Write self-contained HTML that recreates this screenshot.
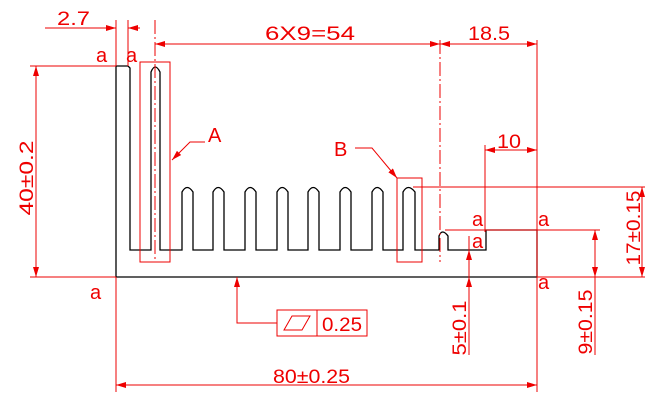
<!DOCTYPE html>
<html><head><style>body{margin:0;background:#fff}svg{display:block}text{font-family:"Liberation Sans",sans-serif;fill:#e00}</style></head><body>
<svg width="655" height="402" viewBox="0 0 655 402" xmlns="http://www.w3.org/2000/svg">
<defs><marker id="ar" viewBox="0 0 10 6" refX="10" refY="3" markerWidth="10" markerHeight="6" orient="auto-start-reverse" markerUnits="userSpaceOnUse"><path d="M0,0L10,3L0,6z" fill="#e00"/></marker></defs>
<g fill="none" stroke="#000" stroke-width="1.3">
<path d="M116,66V277H537V230H486V250H448V236Q442,228 439,236V250H415V192Q408,183 403,192V250H383V192Q377,183 372,192V250H351V192Q345,183 340,192V250H319V192Q313,183 308,192V250H288V192Q282,183 277,192V250H256V192Q250,183 245,192V250H224V192Q218,183 213,192V250H193V192Q187,183 182,192V250H160V72Q155,62 151,72V250H130V68L128,66Z"/>
</g>
<g fill="none" stroke="#e00" stroke-width="1">
<rect x="140" y="62" width="30" height="200"/>
<rect x="397" y="178" width="25" height="84"/>
<path d="M155,20V262M440,40V262" stroke-dasharray="14,3,2,3"/>
<path d="M413,187H645M445,230H600M537,277H645M30,66H116M30,277H116M116,20V66M128,20V66M116,277V392M537,40V392M485,145V232M469,236V355M595,230V355M237,277V323H277"/>
<path d="M36,66V277" marker-start="url(#ar)" marker-end="url(#ar)"/>
<path d="M642,187V277" marker-start="url(#ar)" marker-end="url(#ar)"/>
<path d="M116,385H537" marker-start="url(#ar)" marker-end="url(#ar)"/>
<path d="M155,44H440" marker-start="url(#ar)" marker-end="url(#ar)"/>
<path d="M440,44H537" marker-start="url(#ar)" marker-end="url(#ar)"/>
<path d="M485,150H537" marker-start="url(#ar)" marker-end="url(#ar)"/>
<path d="M45,28H116" marker-end="url(#ar)"/><path d="M140,28H128" marker-end="url(#ar)"/>
<path d="M595,300V230" marker-end="url(#ar)"/><path d="M595,250V277" marker-end="url(#ar)"/>
<path d="M469,270V250" marker-end="url(#ar)"/><path d="M469,300V277" marker-end="url(#ar)"/>
<path d="M237,300V277" marker-end="url(#ar)"/>
<path d="M205,142H190L172,160" marker-end="url(#ar)"/>
<path d="M355,148H372L397,178" marker-end="url(#ar)"/>
<rect x="277" y="310" width="90" height="26"/><path d="M317,310V336M284,330L292,316H310L302,330Z"/>
</g>
<g font-size="19" lengthAdjust="spacingAndGlyphs">
<text x="57" y="25" textLength="33" lengthAdjust="spacingAndGlyphs">2.7</text>
<text x="265" y="40" textLength="90" lengthAdjust="spacingAndGlyphs">6X9=54</text>
<text x="468" y="40" textLength="42" lengthAdjust="spacingAndGlyphs">18.5</text>
<text x="497" y="148" textLength="24" lengthAdjust="spacingAndGlyphs">10</text>
<text x="273" y="383" textLength="77" lengthAdjust="spacingAndGlyphs">80±0.25</text>
<text x="322" y="331" textLength="40" lengthAdjust="spacingAndGlyphs">0.25</text>
<text x="208" y="142" font-size="20">A</text>
<text x="334" y="156" font-size="20">B</text>
<text transform="translate(33,178) rotate(-90)" text-anchor="middle" textLength="75" lengthAdjust="spacingAndGlyphs">40±0.2</text>
<text transform="translate(640,228) rotate(-90)" text-anchor="middle" textLength="75" lengthAdjust="spacingAndGlyphs">17±0.15</text>
<text transform="translate(466,328) rotate(-90)" text-anchor="middle" textLength="55" lengthAdjust="spacingAndGlyphs">5±0.1</text>
<text transform="translate(592,322) rotate(-90)" text-anchor="middle" textLength="65" lengthAdjust="spacingAndGlyphs">9±0.15</text>
<g font-size="20">
<text x="96" y="62">a</text><text x="126" y="62">a</text><text x="90" y="299">a</text>
<text x="472" y="226">a</text><text x="472" y="248">a</text><text x="538" y="226">a</text><text x="538" y="289">a</text>
</g>
</g>
</svg>
</body></html>
